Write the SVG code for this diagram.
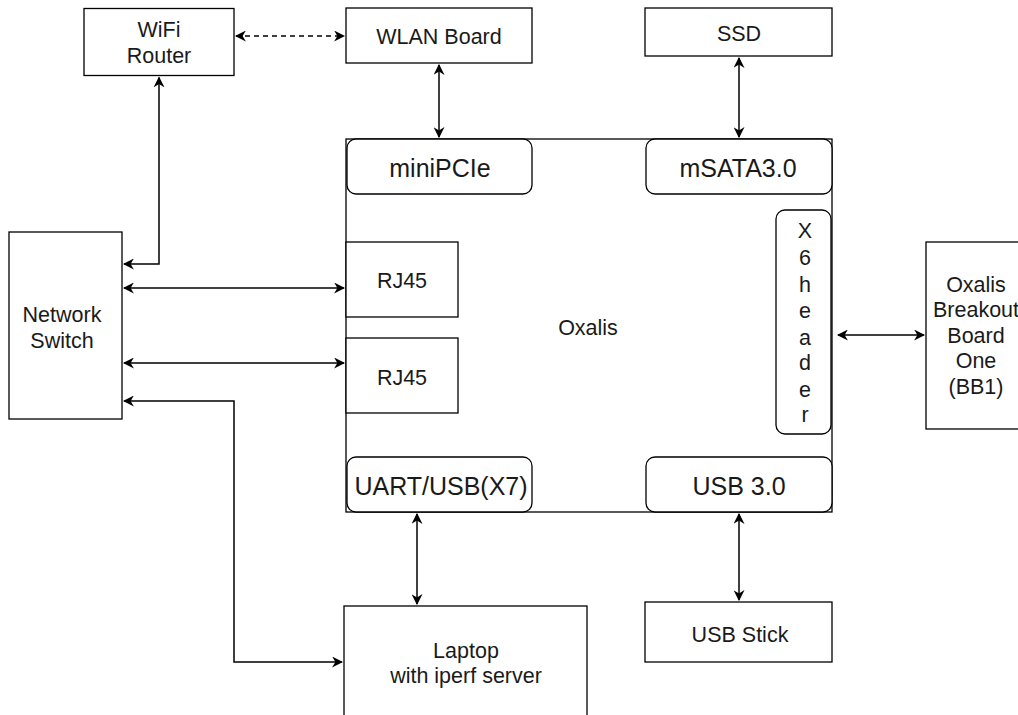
<svg xmlns="http://www.w3.org/2000/svg" width="1018" height="715" viewBox="0 0 1018 715">
<style>
.box{fill:#fff;stroke:#000;stroke-width:1.3}
.rbox{fill:#fff;stroke:#000;stroke-width:1.3}
.t{font-family:"Liberation Sans",Arial,sans-serif;font-size:21.5px;fill:#1a1a1a;text-anchor:middle}
.tl{font-family:"Liberation Sans",Arial,sans-serif;font-size:25px;fill:#1a1a1a;text-anchor:middle}
.c{fill:none;stroke:#000;stroke-width:1.5}
.d{stroke-dasharray:5,4}
</style>
<defs>
<marker id="a" viewBox="0 0 10 10" refX="9" refY="5" markerWidth="11" markerHeight="11" markerUnits="userSpaceOnUse" orient="auto-start-reverse">
<path d="M0,0 L10,5 L0,10 L3,5 z" fill="#000"/>
</marker>
</defs>
<rect width="1018" height="715" fill="#fff"/>
<g id="oxalis"><rect class="box" x="346" y="139" width="486" height="373"/><text class="t" x="588" y="335">Oxalis</text></g>
<g id="wifi"><rect class="box" x="84" y="8.5" width="150" height="67"/><text class="t" x="159" y="37">WiFi</text><text class="t" x="159" y="63">Router</text></g>
<g id="wlan"><rect class="box" x="346" y="8" width="186" height="55"/><text class="t" x="439" y="44">WLAN Board</text></g>
<g id="ssd"><rect class="box" x="645" y="8" width="187" height="48"/><text class="t" x="739" y="41">SSD</text></g>
<g id="minipcie"><rect class="rbox" x="347" y="139" width="185" height="55" rx="9"/><text class="tl" x="440" y="177">miniPCIe</text></g>
<g id="msata"><rect class="rbox" x="646" y="139" width="186" height="55" rx="9"/><text class="tl" x="738" y="177">mSATA3.0</text></g>
<g id="x6"><rect class="rbox" x="776" y="210" width="55" height="224" rx="9"/>
<text class="t" x="805" y="238">X</text><text class="t" x="805" y="265">6</text><text class="t" x="805" y="292">h</text><text class="t" x="805" y="318">e</text><text class="t" x="805" y="345">a</text><text class="t" x="805" y="370">d</text><text class="t" x="805" y="397">e</text><text class="t" x="805" y="422">r</text></g>
<g id="bb1"><rect class="box" x="926" y="242" width="100" height="187"/>
<text class="t" x="976" y="292">Oxalis</text><text class="t" x="976" y="317">Breakout</text><text class="t" x="976" y="343">Board</text><text class="t" x="976" y="368">One</text><text class="t" x="976" y="394">(BB1)</text></g>
<g id="rj45a"><rect class="box" x="346" y="242" width="112" height="75"/><text class="t" x="402" y="288">RJ45</text></g>
<g id="rj45b"><rect class="box" x="346" y="338" width="112" height="75"/><text class="t" x="402" y="385">RJ45</text></g>
<g id="switch"><rect class="box" x="9" y="232" width="113" height="187"/><text class="t" x="62" y="322">Network</text><text class="t" x="62" y="348">Switch</text></g>
<g id="uart"><rect class="rbox" x="347" y="457" width="185" height="55" rx="9"/><text class="tl" x="441" y="495">UART/USB(X7)</text></g>
<g id="usb3"><rect class="rbox" x="646" y="457" width="186" height="55" rx="9"/><text class="tl" x="739" y="495">USB 3.0</text></g>
<g id="laptop"><rect class="box" x="344" y="606" width="243" height="120"/><text class="t" x="466" y="658">Laptop</text><text class="t" x="466" y="683">with iperf server</text></g>
<g id="usbstick"><rect class="box" x="645" y="602" width="187" height="60"/><text class="t" x="740" y="642">USB Stick</text></g>
<g id="connectors">
<path class="c d" d="M236,36 H344" marker-start="url(#a)" marker-end="url(#a)"/>
<path class="c" d="M439,65 V137" marker-start="url(#a)" marker-end="url(#a)"/>
<path class="c" d="M739,58 V137" marker-start="url(#a)" marker-end="url(#a)"/>
<path class="c" d="M159,77.5 V264 H124" marker-start="url(#a)" marker-end="url(#a)"/>
<path class="c" d="M124,288 H344" marker-start="url(#a)" marker-end="url(#a)"/>
<path class="c" d="M124,363 H344" marker-start="url(#a)" marker-end="url(#a)"/>
<path class="c" d="M124,401 H234 V662 H342" marker-start="url(#a)" marker-end="url(#a)"/>
<path class="c" d="M838,335 H924" marker-start="url(#a)" marker-end="url(#a)"/>
<path class="c" d="M417,514 V604" marker-start="url(#a)" marker-end="url(#a)"/>
<path class="c" d="M739,514 V600" marker-start="url(#a)" marker-end="url(#a)"/>
</g>
</svg>
